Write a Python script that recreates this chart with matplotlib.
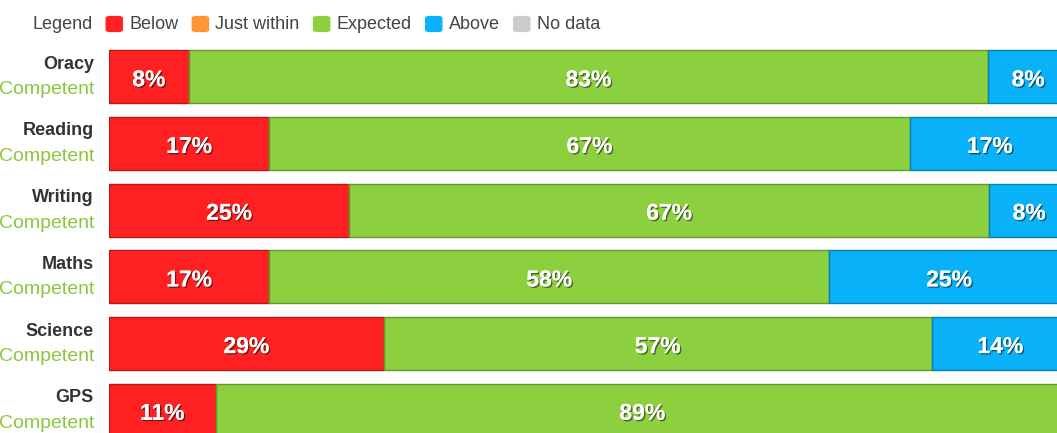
import numpy as np
import matplotlib
matplotlib.use("Agg")
import matplotlib.pyplot as plt
import matplotlib.patheffects as pe
from matplotlib.patches import FancyBboxPatch
from matplotlib.colors import to_rgb

plt.rcParams["font.family"] = ["Liberation Sans", "DejaVu Sans"]

# data
subjects = ["Oracy", "Reading", "Writing", "Maths", "Science", "GPS"]
grade = "Competent"
series = ["Below", "Just within", "Expected", "Above", "No data"]
below = [8.3, 16.7, 25.0, 16.7, 28.6, 11.1]
just_within = [0, 0, 0, 0, 0, 0]
expected = [83.3, 66.7, 66.7, 58.3, 57.1, 88.9]
above = [8.3, 16.7, 8.3, 25.0, 14.3, 0]
no_data = [0, 0, 0, 0, 0, 0]
colours = ["#ff2121", "#ff9633", "#8ccf3f", "#08b1f8", "#cccccc"]

W, H = 1057, 433
fig = plt.figure(figsize=(W / 100, H / 100), dpi=100)

# axes runs past the right edge, like the cropped screenshot
ax = fig.add_axes([109 / W, 0, 960 / W, 1])
ax.set_xlim(0, 100)
pitch = 66.7
c0 = 76.8
ax.set_ylim((H - c0) / pitch, -c0 / pitch)
ax.axis("off")


def darker(c, f=0.72):
    r, g, b = to_rgb(c)
    return (r * f, g * f, b * f)


y = np.arange(len(subjects))
left = np.zeros(len(subjects))
shadow = [pe.withSimplePatchShadow(offset=(1, -1), shadow_rgbFace="k", alpha=0.5),
          pe.Normal()]
for name, vals, col in zip(series, [below, just_within, expected, above, no_data], colours):
    vals = np.array(vals, dtype=float)
    ax.barh(y, vals, left=left, height=0.795, color=col,
            edgecolor=darker(col), linewidth=1.0)
    for yi, l, v in zip(y, left, vals):
        if v > 0:
            ax.text(l + v / 2, yi + 0.045, f"{round(v)}%", ha="center", va="center",
                    color="white", fontsize=16.5, fontweight="bold",
                    path_effects=shadow)
    left += vals

# subject labels on the left
tr = ax.get_yaxis_transform()
for yi, s in zip(y, subjects):
    ax.text(-15 / 960, yi - 0.12, s, transform=tr, ha="right", va="baseline",
            fontsize=13, fontweight="bold", color="#333333", clip_on=False)
    ax.text(-15 / 960, yi + 0.26, grade, transform=tr, ha="right", va="baseline",
            fontsize=14, color="#8cc63f", clip_on=False)

# legend row along the top
fig.canvas.draw()
rend = fig.canvas.get_renderer()
ly = 1 - 24.3 / H
t = fig.text(33 / W, ly, "Legend", ha="left", va="center", fontsize=13, color="#444444")
x = t.get_window_extent(rend).x1 + 14
for name, col in zip(series, colours):
    sq = FancyBboxPatch((x / W, (H - 31) / H), 14 / W, 14 / H,
                        boxstyle="round,pad=0.001,rounding_size=0.004",
                        transform=fig.transFigure, facecolor=col, edgecolor=col,
                        linewidth=1)
    fig.add_artist(sq)
    t = fig.text((x + 22) / W, ly, name, ha="left", va="center", fontsize=13,
                 color="#444444")
    x = t.get_window_extent(rend).x1 + 15

fig.savefig("out.png", dpi=100)
